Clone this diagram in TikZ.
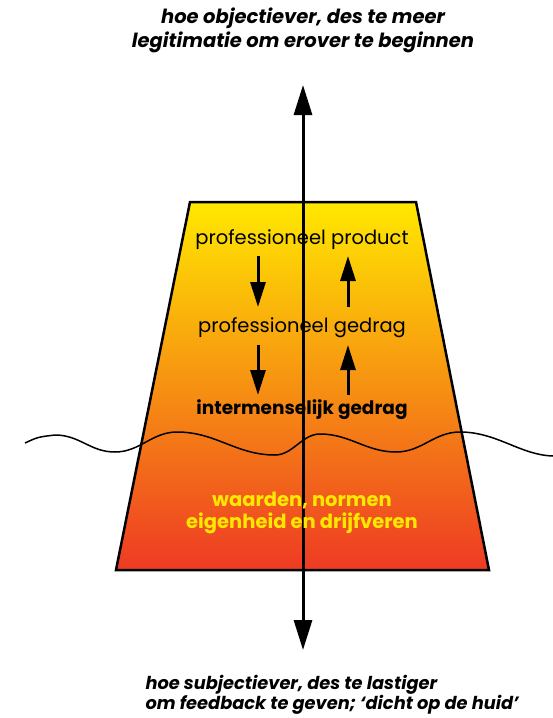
\documentclass[tikz,border=0pt]{standalone}
\usepackage{fontspec}
\setmainfont{Poppins}
\usetikzlibrary{arrows.meta}
\definecolor{geel}{HTML}{FFE800}
\definecolor{oranje}{HTML}{F7941D}
\definecolor{rood}{HTML}{EE3A24}
\tikzset{
	laag/.style={font=\fontsize{19.5}{22}\selectfont},
	kop/.style={font=\fontsize{19.5}{24}\selectfont\bfseries\itshape},
	pijl/.style={line width=3pt,-{Triangle[width=15pt,length=25pt]}},
}

\begin{document}
\begin{tikzpicture}[x=1pt,y=-1pt]
			\useasboundingbox (0,0) rectangle (553,718);
			%trapezium met kleurverloop
			\shade[top color=geel,middle color=oranje,bottom color=rood] (190,202) -- (416,202) -- (489,570) -- (116,570) -- cycle;
			\draw[line width=2.5pt,line join=miter] (190,202) -- (416,202) -- (489,570) -- (116,570) -- cycle;
			%golflijn
			\draw[line width=1.5pt] (25,443) .. controls (38,437) .. (55,435)
				.. controls (80,435) and (90,452) .. (115,452)
				.. controls (140,452) and (152,432) .. (177,432)
				.. controls (216,432) and (236,455) .. (275,455)
				.. controls (293,455) and (302,434) .. (320,434)
				.. controls (350,434) and (366,452) .. (396,452)
				.. controls (422,452) and (434,432) .. (460,432)
				.. controls (497,432) and (520,455) .. (553,456);
			%as
			\coordinate (boven) at (303,85);
			\coordinate (onder) at (303,650);
			\draw[line width=3pt,{Triangle[width=18pt,length=30pt]}-{Triangle[width=18pt,length=30pt]}] (onder) -- (boven);
			\node[kop,align=center] (obj) at (303,30) {hoe objectiever, des te meer\\legitimatie om erover te beginnen};
			\node[kop,font=\fontsize{17.8}{20}\selectfont\bfseries\itshape,align=left,anchor=west] (subj) at (142,695) {hoe subjectiever, des te lastiger\\om feedback te geven; ‘dicht op de huid’};
			%lagen
			\node[laag] (product) at (302,240) {professioneel product};
			\node[laag] (gedrag) at (302,328) {professioneel gedrag};
			\node[laag,font=\fontsize{18.5}{22}\selectfont\bfseries] (inter) at (302,410) {intermenselijk gedrag};
			\node[laag,font=\fontsize{19.5}{22}\selectfont\bfseries,text=geel,align=center] (waarden) at (302,513) {waarden, normen\\eigenheid en drijfveren};
			%pijltjes
			\coordinate (a1) at (258,256);
			\coordinate (a2) at (258,307);
			\coordinate (a3) at (258,345);
			\coordinate (a4) at (258,395);
			\coordinate (b1) at (348,256);
			\coordinate (b2) at (348,307);
			\coordinate (b3) at (348,345);
			\coordinate (b4) at (348,395);
			\draw[pijl] (a1) -- (a2);
			\draw[pijl] (a3) -- (a4);
			\draw[pijl] (b2) -- (b1);
			\draw[pijl] (b4) -- (b3);
		\end{tikzpicture}
\end{document}
